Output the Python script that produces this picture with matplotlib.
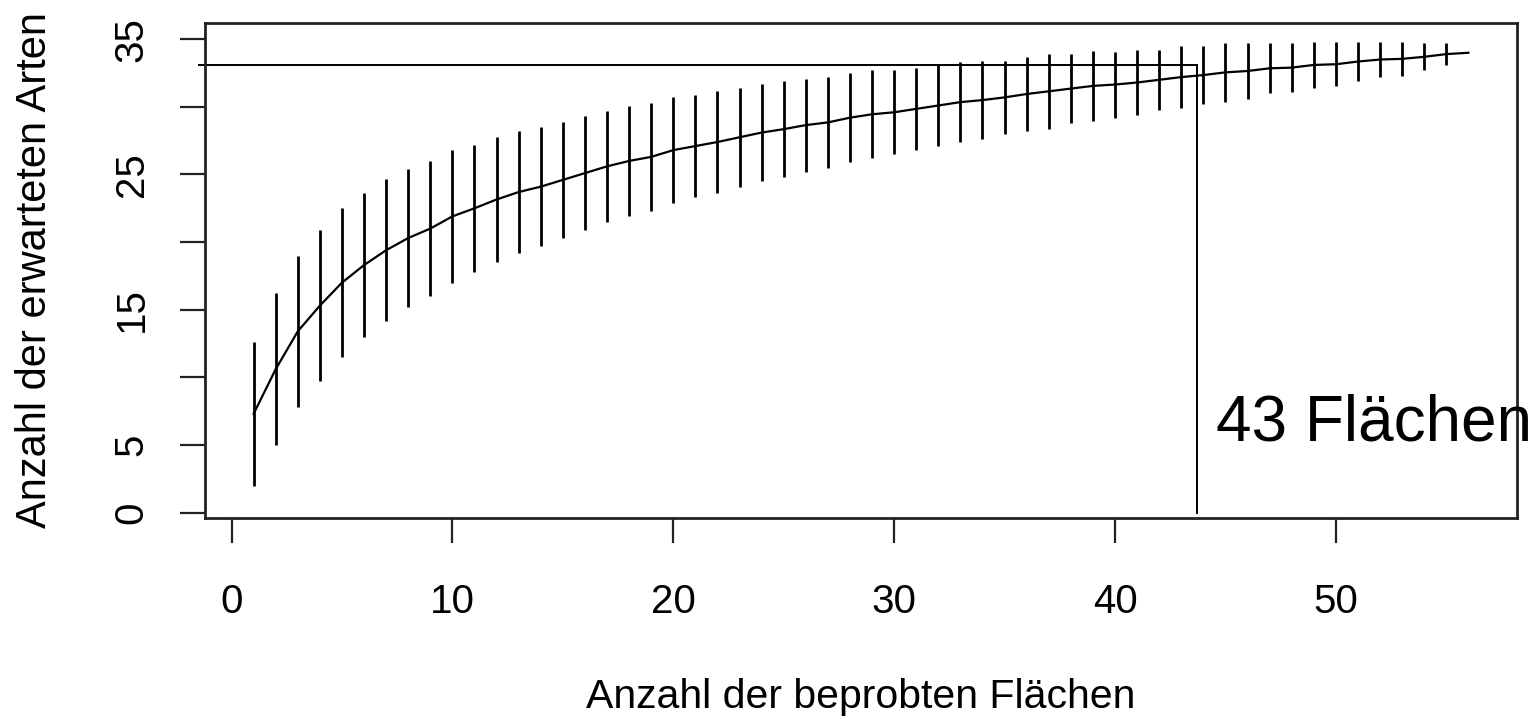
import numpy as np
import matplotlib
matplotlib.use("Agg")
import matplotlib.pyplot as plt

plt.rcParams['font.family'] = ['Liberation Sans', 'DejaVu Sans']

# Artenakkumulationskurve: mittlere Artenzahl und Standardabweichung je Flächenzahl
flaechen = np.arange(1, 57)
arten = [7.3, 10.6, 13.4, 15.3, 17.0, 18.3, 19.4, 20.3, 21.0, 21.9,
         22.5, 23.15, 23.7, 24.1, 24.6, 25.1, 25.6, 26.0, 26.3, 26.8,
         27.1, 27.4, 27.75, 28.1, 28.35, 28.65, 28.85, 29.2, 29.45, 29.6,
         29.85, 30.1, 30.35, 30.5, 30.7, 30.95, 31.15, 31.35, 31.55, 31.65,
         31.8, 32.0, 32.2, 32.35, 32.55, 32.65, 32.85, 32.9, 33.1, 33.15,
         33.35, 33.5, 33.55, 33.7, 33.9, 34.0]
sd = [2.65, 2.8, 2.8, 2.8, 2.75, 2.65, 2.62, 2.55, 2.5, 2.45,
      2.35, 2.32, 2.25, 2.2, 2.15, 2.1, 2.05, 2.05, 2.0, 1.95,
      1.9, 1.88, 1.82, 1.8, 1.78, 1.72, 1.68, 1.65, 1.62, 1.55,
      1.52, 1.5, 1.48, 1.45, 1.35, 1.38, 1.38, 1.28, 1.28, 1.22,
      1.2, 1.1, 1.15, 1.08, 1.08, 1.02, 0.92, 0.9, 0.85, 0.82,
      0.72, 0.65, 0.62, 0.5, 0.4, 0.0]

# Markierung bei 43 Flaechen
mark_x = 43.7
mark_y = 33.1
mark_text = "43 Flächen"

x_ticks = [0, 10, 20, 30, 40, 50]
y_ticks = [0, 5, 10, 15, 20, 25, 30, 35]
y_ticklabels = ["0", "5", "", "15", "", "25", "", "35"]

arten = np.array(arten)
sd = np.array(sd)

fig = plt.figure(figsize=(15.36, 7.19), dpi=100)
ax = fig.add_axes([205/1536, 1 - 518/719, 1312/1536, 495/719])

ax.plot(flaechen, arten, color="black", lw=1.6)
ax.vlines(flaechen, arten - 2*sd, arten + 2*sd, color="black", lw=2.0)

# Hilfslinien zur Markierung
ax.plot([-1.45, mark_x], [mark_y, mark_y], color="black", lw=1.4, clip_on=False)
ax.plot([mark_x, mark_x], [0, mark_y], color="black", lw=1.4)
ax.text(44.55, 5.3, mark_text, fontsize=46, ha="left", va="baseline",
        clip_on=False, zorder=5)

ax.set_xlim(-1.2, 58.2)
ax.set_ylim(-0.4, 36.2)

ax.set_xticks(x_ticks)
ax.set_xticklabels([str(t) for t in x_ticks])
ax.set_yticks(y_ticks)
ax.set_yticklabels(y_ticklabels, rotation=90, va="center")

ax.tick_params(axis="both", direction="out", length=18, width=1.6,
               color="#222222", labelsize=29)
ax.tick_params(axis="x", pad=29)
ax.tick_params(axis="y", pad=21)

for s in ax.spines.values():
    s.set_linewidth(2.0)
    s.set_color("#222222")

fig.text(861/1536, (719 - 708)/719, "Anzahl der beprobten Flächen",
         fontsize=29.5, ha="center", va="baseline")
fig.text(35/1536, 1 - 270/719, "Anzahl der erwarteten Arten",
         fontsize=30, ha="center", va="center", rotation=90)

fig.savefig("out.png", dpi=100, facecolor="white")
